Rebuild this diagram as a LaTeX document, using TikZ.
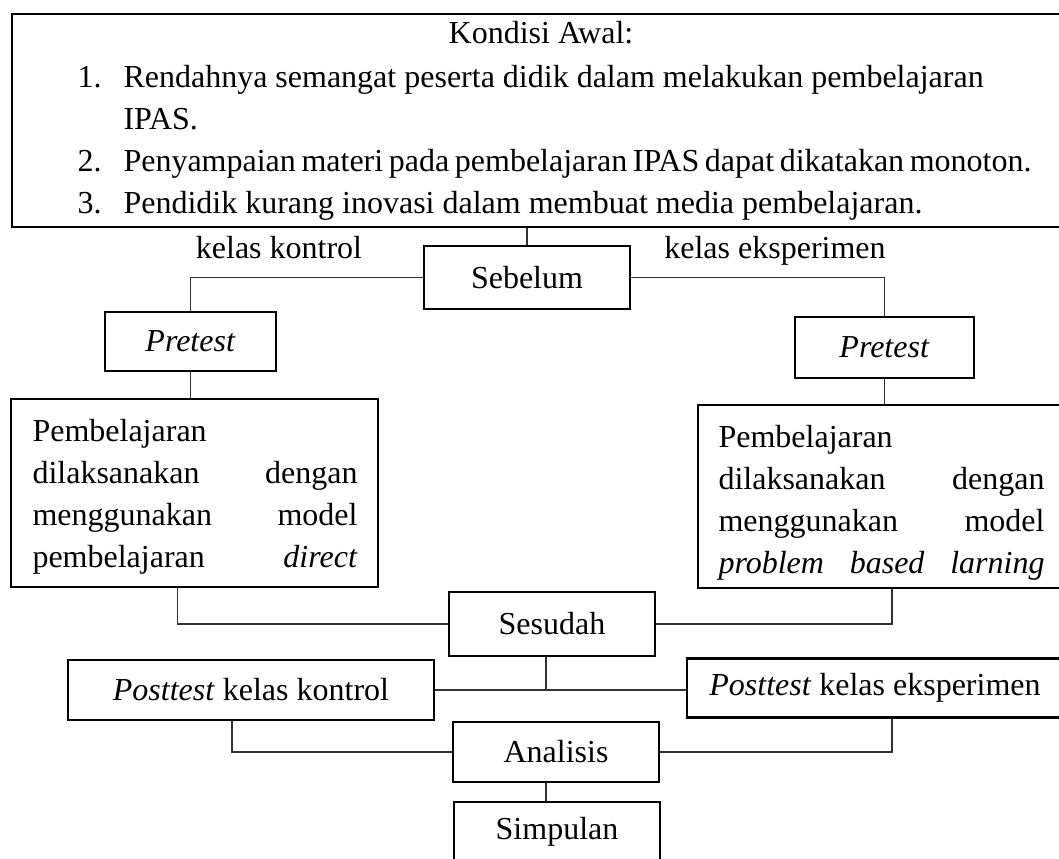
\documentclass[tikz,border=0pt]{standalone}
\usepackage{fontspec}
\setmainfont{Liberation Serif}
\usetikzlibrary{positioning,calc}
\newcommand{\pxl}{0.375pt}

\begin{document}
\begin{tikzpicture}[x=0.375pt,y=-0.375pt,
    font=\fontsize{12}{15.75}\selectfont,
    kotak/.style={draw=black,line width=0.9pt,fill=white,inner sep=0pt},
    isi/.style={inner sep=0pt,align=flush left},
    garis/.style={draw=black!80,line width=0.4pt}]
  \useasboundingbox (0,0) rectangle (1059,858);
  % kondisi awal
  \node[kotak,minimum width=1058*\pxl,minimum height=213*\pxl] (awal) at (541,120.5) {};
  \node[isi,anchor=base] (judul) at (541,43) {Kondisi Awal:};
  \node[isi,anchor=base west,text width=1100*\pxl] (daftar) at (77,87) {%
    \makebox[17.25pt][l]{1.}Rendahnya semangat peserta didik dalam melakukan pembelajaran\\
    \hspace*{17.25pt}IPAS.\\
    \makebox[17.25pt][l]{2.}{\spaceskip=2.1pt\relax Penyampaian materi pada pembelajaran IPAS dapat dikatakan monoton.}\\
    \makebox[17.25pt][l]{3.}Pendidik kurang inovasi dalam membuat media pembelajaran.};
  % sebelum
  \node[kotak,minimum width=206*\pxl,minimum height=63*\pxl] (sebelum) at (527,277.5) {Sebelum};
  \node[isi,anchor=base] (lkontrol) at (279,258) {kelas kontrol};
  \node[isi,anchor=base] (leksp) at (775,258) {kelas eksperimen};
  \node[kotak,minimum width=171*\pxl,minimum height=59*\pxl] (pretestk) at (190.5,341.5) {\textit{Pretest}};
  \node[kotak,minimum width=179*\pxl,minimum height=61*\pxl] (preteste) at (884.5,347.5) {\textit{Pretest}};
  % pembelajaran
  \node[kotak,minimum width=367*\pxl,minimum height=188*\pxl] (ajark) at (194.5,493) {};
  \node[isi,anchor=base west,text width=325*\pxl] (teksk) at (32,441) {%
    Pembelajaran\\
    dilaksanakan\hfill dengan\\
    menggunakan\hfill model\\
    pembelajaran\hfill \textit{direct}};
  \node[kotak,minimum width=366*\pxl,minimum height=183*\pxl] (ajare) at (881,496.5) {};
  \begin{scope}
    \clip (ajare.north west) rectangle (ajare.south east);
    \node[isi,anchor=base west,text width=326*\pxl] (tekse) at (718,447) {%
      Pembelajaran\\
      dilaksanakan\hfill dengan\\
      menggunakan\hfill model\\
      \textit{problem\hfill based\hfill larning}};
  \end{scope}
  % sesudah
  \node[kotak,minimum width=206*\pxl,minimum height=64*\pxl] (sesudah) at (552,624) {Sesudah};
  \node[kotak,minimum width=366*\pxl,minimum height=60*\pxl] (postk) at (251,690) {\textit{Posttest} kelas kontrol};
  \node[kotak,minimum width=376*\pxl,minimum height=59*\pxl] (poste) at (875,688) {\textit{Posttest} kelas eksperimen};
  \node[kotak,minimum width=206*\pxl,minimum height=60*\pxl] (analisis) at (556,752) {Analisis};
  \node[kotak,minimum width=206*\pxl,minimum height=60*\pxl] (simpulan) at (557,832) {Simpulan};

  % garis penghubung
  \coordinate (tk) at ($(ajark.south)+(-17,0)$);
  \coordinate (te) at ($(ajare.south)+(11,0)$);
  \coordinate (pk) at ($(postk.south)+(-19,0)$);
  \coordinate (pe) at ($(poste.south)+(17,0)$);
  \coordinate (ts) at ($(sesudah.south)+(-6,0)$);
  \coordinate (ta) at ($(analisis.south)+(-10,0)$);
  \draw[garis] (sebelum.north) -- (sebelum.north |- awal.south);
  \draw[garis] (sebelum.west) -| (pretestk.north);
  \draw[garis] (sebelum.east) -| (preteste.north);
  \draw[garis] (pretestk.south) -- (pretestk.south |- ajark.north);
  \draw[garis] (preteste.south) -- (preteste.south |- ajare.north);
  \draw[garis] (tk) |- (sesudah.west);
  \draw[garis] (te) |- (sesudah.east);
  \draw[garis] (postk.east) -- (postk.east -| poste.west);
  \draw[garis] (ts) -- (ts |- postk.east);
  \draw[garis] (pk) |- (analisis.west);
  \draw[garis] (pe) |- (analisis.east);
  \draw[garis] (ta) -- (ta |- simpulan.north);
\end{tikzpicture}
\end{document}
